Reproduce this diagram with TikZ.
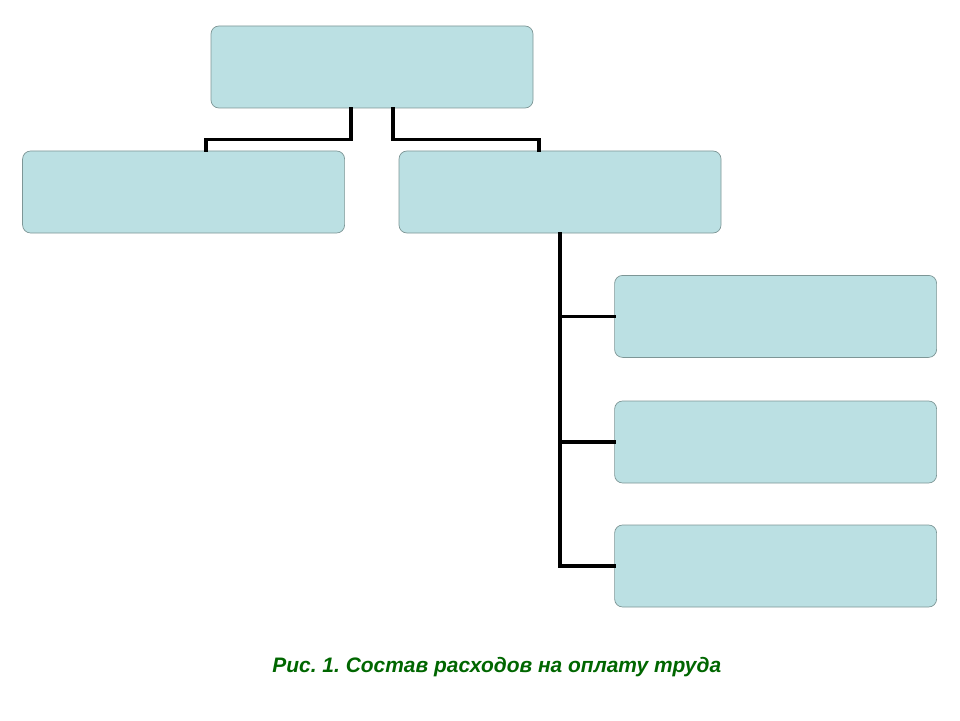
\documentclass[tikz,border=0pt]{standalone}
\usepackage{fontspec}
\newfontfamily\capfont{Liberation Sans}
\usetikzlibrary{calc}
\definecolor{boxfill}{RGB}{187,224,227}
\definecolor{boxline}{RGB}{125,150,150}
\definecolor{capgreen}{RGB}{0,102,0}
\frenchspacing
\tikzset{
    part/.style={draw=boxline, fill=boxfill, rounded corners=0.2cm, minimum width=8.05cm, minimum height=2.05cm, line width=0.5pt},
    link/.style={line width=2.2pt, line cap=rect}
}
\begin{document}
\begin{tikzpicture}
    \useasboundingbox (0, 0) rectangle (24, 18);

    \node[part] at (9.3, 16.325) (total) {};
    \node[part] at (4.59, 13.2) (basic) {};
    \node[part] at (14.0, 13.2) (extra) {};
    \node[part] at (19.39, 10.09) (extraA) {};
    \node[part] at (19.39, 6.95) (extraB) {};
    \node[part] at (19.39, 3.85) (extraC) {};

    \draw[link] ($(total.south) + (-0.525, 0)$) |- ($(basic.north) + (0.56, 0.28)$) -- ($(basic.north) + (0.56, 0)$);
    \draw[link] ($(total.south) + (0.525, 0)$) |- ($(extra.north) + (-0.525, 0.28)$) -- ($(extra.north) + (-0.525, 0)$);

    \draw[link] (extra.south) |- (extraC.west);
    \draw[link] (extra.south |- extraA.west) -- (extraA.west);
    \draw[link] (extra.south |- extraB.west) -- (extraB.west);

    \node[text=capgreen, font=\capfont\bfseries\itshape\fontsize{14.9}{18}\selectfont] at (12.42, 1.33) (caption) {Рис. 1. Состав расходов на оплату труда};
\end{tikzpicture}
\end{document}
